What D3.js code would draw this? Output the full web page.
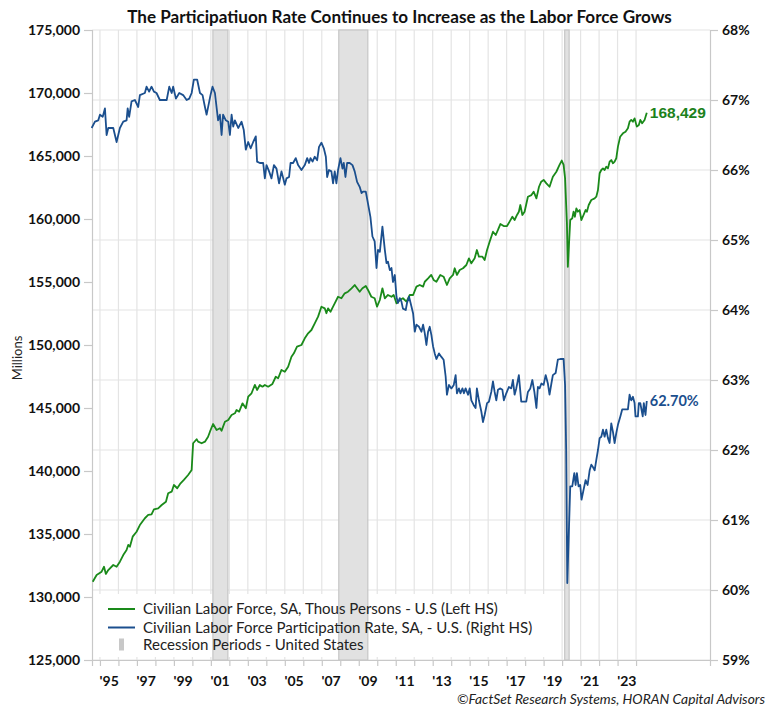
<!DOCTYPE html>
<html><head><meta charset="utf-8">
<script src="https://cdn.jsdelivr.net/npm/d3@7"></script>
<style>body{margin:0;background:#fff}svg{display:block}</style>
</head><body>
<svg id="c" width="774" height="712"></svg>
<script>
// ---------- DATA ----------
const chartTitle = "The Participatiuon Rate Continues to Increase as the Labor Force Grows";
const legendLabels = [
  "Civilian Labor Force, SA, Thous Persons - U.S (Left HS)",
  "Civilian Labor Force Participation Rate, SA, - U.S. (Right HS)",
  "Recession Periods - United States"
];
const sourceNote = "\u00A9FactSet Research Systems, HORAN Capital Advisors";
const leftAxisLabel = "Millions";

const laborForceYears = [1994.61,1994.82,1995.09,1995.22,1995.32,1995.45,1995.72,1995.90,1996.08,1996.26,1996.44,1996.53,1996.62,1996.77,1996.98,1997.16,1997.43,1997.61,1997.79,1997.92,1998.15,1998.34,1998.57,1998.69,1998.88,1999.00,1999.18,1999.36,1999.54,1999.77,1999.96,2000.04,2000.23,2000.31,2000.50,2000.68,2000.85,2000.95,2001.12,2001.31,2001.49,2001.58,2001.76,2001.94,2002.12,2002.30,2002.39,2002.53,2002.71,2002.89,2003.02,2003.20,2003.38,2003.50,2003.65,2003.79,2003.92,2004.10,2004.33,2004.51,2004.64,2004.82,2005.00,2005.18,2005.36,2005.49,2005.66,2005.90,2006.08,2006.26,2006.44,2006.62,2006.80,2006.98,2007.16,2007.25,2007.34,2007.47,2007.61,2007.70,2007.88,2008.06,2008.24,2008.42,2008.61,2008.78,2008.91,2009.05,2009.20,2009.38,2009.50,2009.68,2009.86,2009.99,2010.14,2010.28,2010.41,2010.58,2010.77,2010.89,2011.04,2011.22,2011.39,2011.58,2011.76,2011.94,2012.12,2012.30,2012.48,2012.57,2012.75,2012.92,2013.05,2013.20,2013.41,2013.59,2013.77,2013.92,2014.10,2014.19,2014.31,2014.46,2014.64,2014.82,2014.96,2015.09,2015.27,2015.39,2015.50,2015.69,2015.81,2015.94,2016.08,2016.26,2016.41,2016.53,2016.66,2016.84,2017.02,2017.16,2017.31,2017.43,2017.56,2017.66,2017.74,2017.85,2017.97,2018.15,2018.34,2018.46,2018.61,2018.75,2018.87,2019.00,2019.15,2019.32,2019.50,2019.69,2019.86,2019.98,2020.08,2020.16,2020.26,2020.31,2020.44,2020.55,2020.62,2020.69,2020.77,2020.85,2020.95,2021.04,2021.12,2021.27,2021.34,2021.44,2021.58,2021.76,2021.85,2021.94,2022.03,2022.12,2022.21,2022.30,2022.39,2022.48,2022.57,2022.66,2022.75,2022.84,2022.93,2023.02,2023.14,2023.29,2023.43,2023.56,2023.65,2023.74,2023.83,2023.92,2024.04,2024.15,2024.23,2024.33,2024.46,2024.58];
const laborForceValues = [131210,131750,132010,132400,131830,132140,132540,132400,132800,133330,133730,134130,133990,134790,135180,135710,136250,136510,136560,136960,137040,137300,137560,138230,138360,138890,138630,139020,139290,139680,140080,142200,142520,142330,142200,142330,142720,143120,143730,143250,143390,143200,143910,144050,144440,144580,144840,144710,145370,144980,145900,146170,146830,146430,146830,146690,146830,146690,146910,147480,147360,148020,147880,148280,149070,149340,149870,150000,150530,150930,151190,151720,152250,153040,152910,152520,152910,152640,153040,153310,153830,153710,154100,154230,154500,154760,154500,154230,154500,154680,154370,153830,153710,153040,153570,154500,153710,153970,153830,153970,153310,153570,153710,153440,153970,153970,154630,154760,154630,155020,155290,155560,155160,155020,155560,155420,154760,155290,155560,156090,155560,155950,156090,156350,156880,156480,156880,157540,157010,157010,156750,157540,158200,158990,158730,159130,159600,159440,159440,159790,160180,159920,160320,160580,161110,160320,160580,161770,161900,162170,161640,162560,162960,163100,162830,162560,163360,163750,164290,164640,164290,163250,159660,156210,159920,160060,160580,160180,160850,160580,160710,159920,160180,160710,160580,161110,161510,161640,161770,162300,163630,163890,164020,163890,164150,164020,164550,164680,164420,164550,164820,165740,166530,166800,166930,167200,167720,167860,167720,167990,167330,167460,167860,167600,167860,168429];

const participationYears = [1994.55,1994.73,1994.91,1995.00,1995.15,1995.27,1995.36,1995.45,1995.72,1995.90,1996.08,1996.26,1996.44,1996.50,1996.58,1996.71,1996.89,1997.07,1997.16,1997.43,1997.52,1997.66,1997.79,1997.92,1998.06,1998.24,1998.61,1998.75,1998.88,1998.96,1999.11,1999.29,1999.50,1999.69,1999.83,1999.96,2000.08,2000.26,2000.41,2000.55,2000.68,2000.77,2000.98,2001.09,2001.22,2001.39,2001.49,2001.58,2001.66,2001.81,2001.94,2002.03,2002.12,2002.21,2002.30,2002.48,2002.66,2002.78,2002.89,2003.02,2003.15,2003.29,2003.43,2003.50,2003.65,2003.83,2003.92,2004.01,2004.15,2004.28,2004.41,2004.55,2004.69,2004.82,2005.00,2005.09,2005.23,2005.31,2005.45,2005.59,2005.72,2005.90,2006.08,2006.21,2006.31,2006.39,2006.50,2006.62,2006.75,2006.85,2006.98,2007.11,2007.22,2007.29,2007.39,2007.52,2007.61,2007.70,2007.79,2007.88,2008.01,2008.12,2008.19,2008.28,2008.37,2008.51,2008.66,2008.78,2008.91,2009.05,2009.15,2009.23,2009.38,2009.50,2009.63,2009.74,2009.86,2009.96,2010.04,2010.14,2010.28,2010.41,2010.50,2010.58,2010.68,2010.77,2010.85,2010.95,2011.04,2011.12,2011.22,2011.31,2011.39,2011.54,2011.61,2011.72,2011.85,2011.94,2012.03,2012.12,2012.26,2012.39,2012.48,2012.57,2012.66,2012.75,2012.84,2012.93,2013.02,2013.11,2013.20,2013.34,2013.47,2013.59,2013.70,2013.77,2013.88,2014.01,2014.14,2014.24,2014.31,2014.42,2014.50,2014.61,2014.69,2014.78,2014.91,2015.00,2015.09,2015.22,2015.32,2015.39,2015.50,2015.63,2015.72,2015.81,2015.94,2016.04,2016.17,2016.26,2016.35,2016.44,2016.53,2016.66,2016.77,2016.85,2016.98,2017.12,2017.25,2017.34,2017.43,2017.52,2017.66,2017.79,2017.92,2018.06,2018.15,2018.28,2018.39,2018.50,2018.61,2018.69,2018.78,2018.88,2019.00,2019.11,2019.23,2019.32,2019.42,2019.50,2019.65,2019.77,2019.90,2020.08,2020.16,2020.22,2020.28,2020.44,2020.55,2020.66,2020.73,2020.80,2020.89,2020.98,2021.05,2021.16,2021.27,2021.38,2021.49,2021.58,2021.66,2021.76,2021.85,2021.94,2022.03,2022.12,2022.21,2022.30,2022.39,2022.48,2022.57,2022.66,2022.75,2022.84,2022.93,2023.02,2023.15,2023.25,2023.43,2023.56,2023.65,2023.74,2023.83,2023.92,2023.97,2024.10,2024.15,2024.23,2024.36,2024.42,2024.51,2024.58];
const participationValues = [66.60,66.69,66.71,66.79,66.76,66.88,66.50,66.60,66.60,66.40,66.60,66.69,66.71,66.88,66.76,66.98,67.00,66.90,67.07,67.10,67.19,67.12,67.19,67.12,67.10,67.00,67.00,67.19,67.10,67.19,67.02,67.10,67.07,67.00,67.02,67.10,67.29,67.29,67.10,67.07,66.90,66.79,67.07,67.19,67.10,66.71,66.79,66.50,66.79,66.71,66.69,66.50,66.79,66.62,66.71,66.60,66.69,66.57,66.29,66.40,66.31,66.40,66.48,66.12,66.10,66.10,65.88,66.07,65.98,65.88,66.07,66.02,65.81,65.98,65.79,65.88,65.90,66.10,66.10,66.17,66.07,66.00,66.07,66.17,66.10,66.17,66.12,66.19,66.14,66.33,66.39,66.31,66.19,65.90,66.00,65.98,65.81,65.98,65.81,66.00,66.17,66.02,66.10,65.90,66.10,66.10,66.07,65.98,65.83,65.76,65.67,65.69,65.69,65.52,65.33,65.05,64.98,64.60,64.86,64.83,65.19,64.86,64.67,64.69,64.57,64.60,64.40,64.50,64.19,64.10,64.17,64.12,64.02,64.00,64.10,64.19,64.05,63.95,63.69,63.79,63.76,63.69,63.79,63.67,63.50,63.69,63.76,63.64,63.48,63.38,63.30,63.38,63.33,63.29,63.05,62.79,62.93,62.88,62.93,63.07,62.81,62.88,62.81,62.88,62.81,62.88,62.79,62.88,62.71,62.64,62.60,62.88,62.71,62.55,62.40,62.50,62.67,62.69,62.83,62.98,62.83,62.71,62.86,62.88,62.86,62.71,62.81,62.90,62.88,63.00,62.79,62.88,63.07,62.69,62.69,62.69,62.83,62.88,63.00,62.83,62.60,62.90,62.88,62.95,62.93,63.07,62.95,62.79,62.95,63.07,63.10,63.29,63.30,63.30,62.93,62.00,60.10,61.48,61.48,61.67,61.50,61.67,61.48,61.50,61.29,61.43,61.57,61.50,61.71,61.79,61.76,61.71,61.86,62.00,62.17,62.19,62.29,62.19,62.29,62.17,62.10,62.38,62.26,62.10,62.24,62.36,62.48,62.58,62.58,62.58,62.79,62.71,62.76,62.67,62.48,62.48,62.67,62.67,62.48,62.67,62.50,62.70];

const recessionStarts = [2001.11, 2007.92, 2020.14];
const recessionEnds   = [2001.92, 2009.49, 2020.38];

const leftTicks  = [125000,130000,135000,140000,145000,150000,155000,160000,165000,170000,175000];
const rightTicks = [59,60,61,62,63,64,65,66,67,68];
const yearTicks  = d3.range(1995, 2025);
const yearLabels = [1995,1997,1999,2001,2003,2005,2007,2009,2011,2013,2015,2017,2019,2021,2023];
const xDomain = [1994.57, 2028.0];

// ---------- STYLE / LAYOUT ----------
const GREEN = "#1a8a1a", BLUE = "#1b4f8e";
const FONT = "Lato, 'Open Sans', sans-serif";
const L = 92, R = 710, T = 30, B = 660;

const svg = d3.select("#c");
svg.append("rect").attr("width",774).attr("height",712).attr("fill","#fff");

const x  = d3.scaleLinear().domain(xDomain).range([L, R]);
const yL = d3.scaleLinear().domain([125000, 175000]).range([B, T]);
const yR = d3.scaleLinear().domain([59, 68]).range([B, T]);

function fit(sel, w){
  const n = sel.node(); const len = n.getComputedTextLength();
  const fs = parseFloat(sel.attr("font-size"));
  if (len > 0) sel.attr("font-size", (fs * w / len).toFixed(2));
  return sel;
}

// gridlines
const grid = svg.append("g");
grid.selectAll("line.h").data(rightTicks).join("line")
  .attr("x1", L).attr("x2", R).attr("y1", d => yR(d)).attr("y2", d => yR(d))
  .attr("stroke", "#e4e4e4").attr("stroke-width", 1.2);
grid.selectAll("line.v").data(yearTicks).join("line")
  .attr("x1", d => x(d)).attr("x2", d => x(d)).attr("y1", T).attr("y2", B)
  .attr("stroke", "#e4e4e4").attr("stroke-width", 1.2);

// legend background (hides grid)
const legendBox = {x: 94, y: 594, w: 458, h: 63};
svg.append("rect").attr("x", legendBox.x).attr("y", legendBox.y)
  .attr("width", legendBox.w).attr("height", legendBox.h).attr("fill", "#fff");

// recession bands
const rec = d3.zip(recessionStarts, recessionEnds);
svg.append("g").selectAll("rect").data(rec).join("rect")
  .attr("x", d => x(d[0])).attr("width", d => x(d[1]) - x(d[0]))
  .attr("y", T).attr("height", B - T)
  .attr("fill", "#e1e1e1").attr("stroke", "#c6c6c6").attr("stroke-width", 1.2);

// axes
function styleAxis(g){
  g.select(".domain").attr("stroke", "#c8c8c8").attr("stroke-width", 1.2);
  g.selectAll(".tick line").attr("stroke", "#c8c8c8").attr("stroke-width", 1.2);
  g.selectAll("text").attr("font-family", FONT).attr("font-weight", 700)
    .attr("font-size", 14).attr("fill", "#111");
}
svg.append("g").attr("transform", `translate(${L},0)`)
  .call(d3.axisLeft(yL).tickValues(leftTicks).tickSize(8).tickPadding(4).tickFormat(d3.format(",")))
  .call(styleAxis);
svg.append("g").attr("transform", `translate(${R},0)`)
  .call(d3.axisRight(yR).tickValues(rightTicks).tickSize(8).tickPadding(4).tickFormat(d => d + "%"))
  .call(styleAxis);
svg.append("g").attr("transform", `translate(0,${B})`)
  .call(d3.axisBottom(x).tickValues(yearTicks).tickSize(6).tickFormat(""))
  .call(styleAxis);
svg.append("g").selectAll("text").data(yearLabels).join("text")
  .attr("x", d => x(d + 0.5)).attr("y", 686).attr("text-anchor", "middle")
  .attr("font-family", FONT).attr("font-weight", 700).attr("font-size", 14).attr("fill", "#111")
  .text(d => "'" + String(d).slice(2));

// series
const lfData = d3.zip(laborForceYears, laborForceValues);
const prData = d3.zip(participationYears, participationValues);
svg.append("path").datum(lfData)
  .attr("d", d3.line().x(d => x(d[0])).y(d => yL(d[1])))
  .attr("fill", "none").attr("stroke", GREEN).attr("stroke-width", 1.8).attr("stroke-linejoin", "round");
svg.append("path").datum(prData)
  .attr("d", d3.line().x(d => x(d[0])).y(d => yR(d[1])))
  .attr("fill", "none").attr("stroke", BLUE).attr("stroke-width", 1.8).attr("stroke-linejoin", "round");

// end labels
const lfLast = lfData[lfData.length - 1], prLast = prData[prData.length - 1];
svg.append("text").attr("x", x(lfLast[0]) + 3).attr("y", yL(lfLast[1]) + 5.5)
  .attr("font-family", "'Liberation Sans', Arial, sans-serif").attr("font-weight", 700)
  .attr("font-size", 15.5).attr("fill", "#1c821c").text(d3.format(",")(lfLast[1]));
svg.append("text").attr("x", x(prLast[0]) + 3).attr("y", yR(prLast[1]) + 5)
  .attr("font-family", FONT).attr("font-weight", 700)
  .attr("font-size", 14.5).attr("fill", BLUE).text(d3.format(".2f")(prLast[1]) + "%");

// title
fit(svg.append("text").attr("x", 399.5).attr("y", 23).attr("text-anchor", "middle")
  .attr("font-family", FONT).attr("font-weight", 700).attr("font-size", 16).attr("fill", "#111")
  .text(chartTitle), 545);

// left axis title
svg.append("text").attr("transform", "translate(22,358) rotate(-90)").attr("text-anchor", "middle")
  .attr("font-family", FONT).attr("font-size", 13).attr("fill", "#222").text(leftAxisLabel);

// legend
const lg = svg.append("g");
const rowY = [609, 627.5, 645];
lg.append("line").attr("x1", 108).attr("x2", 135).attr("y1", rowY[0]).attr("y2", rowY[0])
  .attr("stroke", GREEN).attr("stroke-width", 2);
lg.append("line").attr("x1", 108).attr("x2", 135).attr("y1", rowY[1]).attr("y2", rowY[1])
  .attr("stroke", BLUE).attr("stroke-width", 2);
lg.append("rect").attr("x", 119).attr("y", rowY[2] - 6.5).attr("width", 5).attr("height", 12)
  .attr("fill", "#c8c8c8");
const lt = lg.selectAll("text").data(legendLabels).join("text")
  .attr("x", 143).attr("y", (d, i) => rowY[i] + 5)
  .attr("font-family", FONT).attr("font-size", 14).attr("fill", "#222").text(d => d);
const first = d3.select(lt.nodes()[0]);
fit(first, 355);
lt.attr("font-size", first.attr("font-size"));

// source note
fit(svg.append("text").attr("x", 457).attr("y", 704)
  .attr("font-family", FONT).attr("font-style", "italic").attr("font-size", 13).attr("fill", "#222")
  .text(sourceNote), 308);
</script>
</body></html>
